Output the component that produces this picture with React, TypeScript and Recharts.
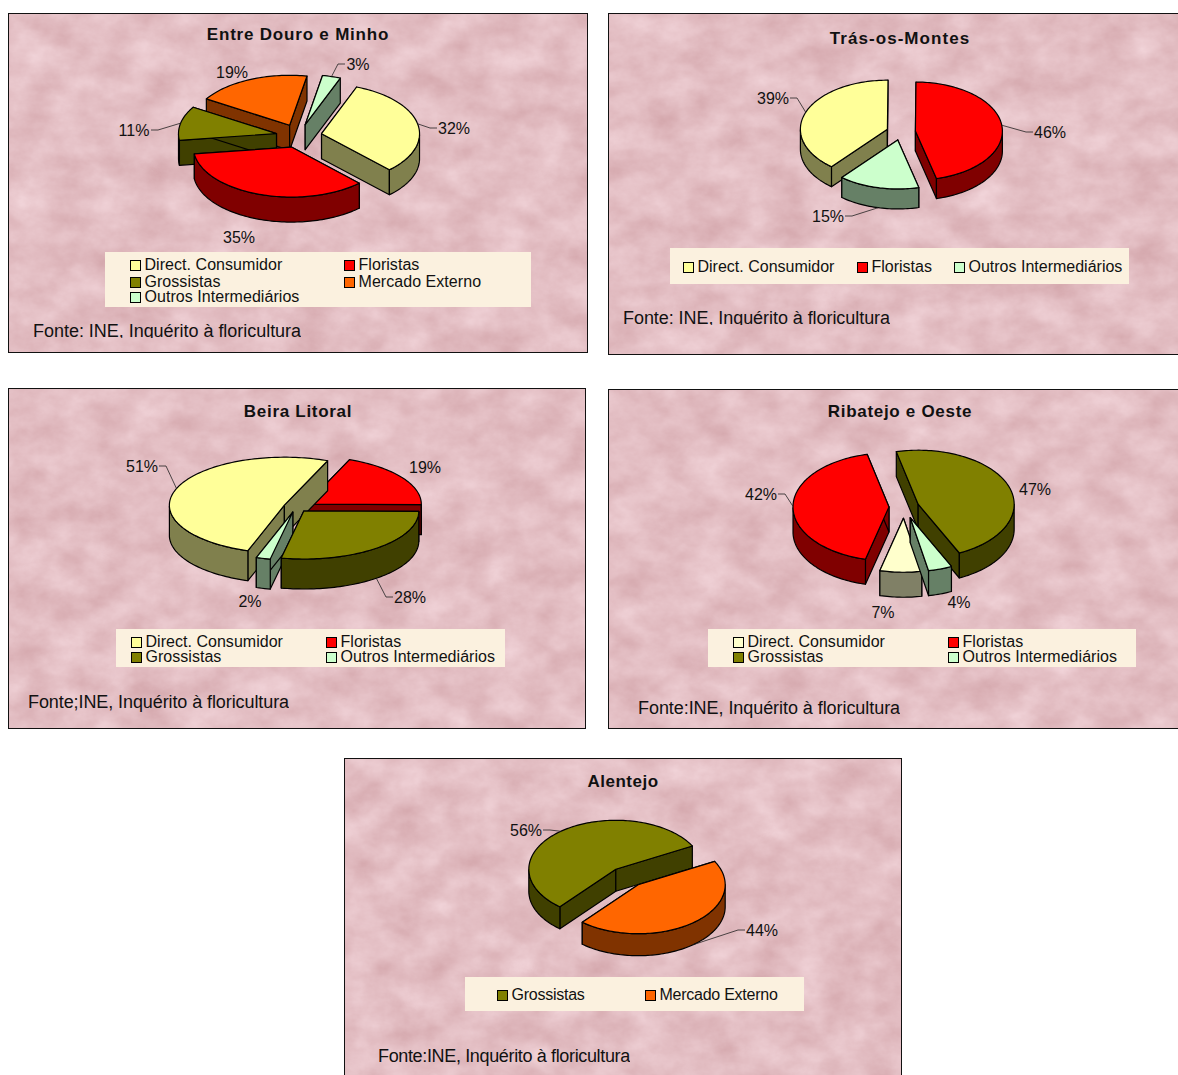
import React from "react";
import { PieChart, Pie, Legend } from "recharts";

const FONT = '"Liberation Sans", Arial, sans-serif';

const DIRECT = "Direct. Consumidor";
const FLOR = "Floristas";
const GROSS = "Grossistas";
const MERC = "Mercado Externo";
const OUTROS = "Outros Intermediários";

const topColors: Record<string, string> = {
  [DIRECT]: "#FFFF99", [FLOR]: "#FF0000", [GROSS]: "#808000", [MERC]: "#FF6600", [OUTROS]: "#CCFFCC",
};
const wallColors: Record<string, string> = {
  [DIRECT]: "#80804D", [FLOR]: "#800000", [GROSS]: "#404000", [MERC]: "#803300", [OUTROS]: "#668066",
};
const paleDirectTop = "#FFFFCC";
const paleDirectWall = "#808066";

const minhoCategories = [DIRECT, FLOR, GROSS, MERC, OUTROS];
const minhoValues = [32, 35, 11, 19, 3];
const montesCategories = [DIRECT, FLOR, OUTROS];
const montesValues = [39, 46, 15];
const litoralCategories = [DIRECT, FLOR, GROSS, OUTROS];
const litoralValues = [51, 19, 28, 2];
const oesteCategories = [DIRECT, FLOR, GROSS, OUTROS];
const oesteValues = [7, 42.4, 46.6, 4];
const alentejoCategories = [GROSS, MERC];
const alentejoValues = [56, 44];

type Cfg = any;

const charts: Cfg[] = [
  {
    title: "Entre Douro e Minho", titleAt: [298, 34], titleSpacing: 0.8,
    source: "Fonte: INE, Inquérito à floricultura", sourceAt: [33, 331], sourceClip: 338, sourceSpacing: -0.03,
    panel: [8, 13, 580, 340], seed: 3, legendSpacing: 0.05,
    categories: minhoCategories, values: minhoValues,
    center: [299, 136], rx: 98, ry: 50, depth: 25, start: 69, explode: [23, 23, 23, 23, 23],
    order: [OUTROS, MERC, GROSS, DIRECT, FLOR],
    labels: [[155, -8, "r"], [-60, 101, ""], [-165, -6, "l"], [-67, -64, ""], [59, -72, "r"]],
    legendBox: [105, 252, 426, 55],
    legendCells: [[130, 265], [344, 265], [130, 282], [344, 282], [130, 297]],
  },
  {
    title: "Trás-os-Montes", titleAt: [900, 38], titleSpacing: 1.05,
    source: "Fonte: INE, Inquérito à floricultura", sourceAt: [623, 318], sourceClip: 325, sourceSpacing: -0.06,
    panel: [608, 13, 572, 342], seed: 8, legendSpacing: 0,
    categories: montesCategories, values: montesValues,
    center: [901, 132], rx: 87, ry: 49, depth: 20, start: 230, explode: [14.5, 14.5, 14.5],
    order: [DIRECT, FLOR, OUTROS],
    labels: [[-128, -34, "l"], [149, 0, "r"], [-73, 84, "l"]],
    legendBox: [670, 248, 459, 36],
    legendCells: [[683, 267], [857, 267], [954, 267]],
  },
  {
    title: "Beira Litoral", titleAt: [298, 411], titleSpacing: 0.7,
    source: "Fonte;INE, Inquérito à floricultura", sourceAt: [28, 702], sourceSpacing: -0.09,
    panel: [8, 388, 578, 341], seed: 14, legendSpacing: 0.03,
    categories: litoralCategories, values: litoralValues,
    center: [296, 507], rx: 115, ry: 48, depth: 30, start: 251.5, explode: [12.4, 12.4, 12.4, 12.4],
    order: [FLOR, DIRECT, OUTROS, GROSS],
    labels: [[-154, -41, "l"], [129, -40, ""], [114, 90, "r"], [-46, 94, ""]],
    legendBox: [116, 629, 389, 38],
    legendCells: [[131, 642], [326, 642], [131, 657], [326, 657]],
  },
  {
    title: "Ribatejo e Oeste", titleAt: [900, 411], titleSpacing: 0.7,
    source: "Fonte:INE, Inquérito à floricultura", sourceAt: [638, 708], sourceSpacing: -0.06,
    panel: [608, 389, 572, 340], seed: 21, legendSpacing: 0.03, paleDirect: true,
    categories: oesteCategories, values: oesteValues,
    center: [904, 507], rx: 96, ry: 54, depth: 25, start: -79, explode: [20, 15, 15, 20],
    order: [FLOR, GROSS, DIRECT, OUTROS],
    labels: [[-21, 105, ""], [-143, -13, "l"], [131, -18, ""], [55, 95, ""]],
    legendBox: [708, 629, 428, 38],
    legendCells: [[733, 642], [948, 642], [733, 657], [948, 657]],
  },
  {
    title: "Alentejo", titleAt: [623, 781], titleSpacing: 0.5,
    source: "Fonte:INE, Inquérito à floricultura", sourceAt: [378, 1056], sourceSpacing: -0.35,
    panel: [344, 758, 558, 320], seed: 30, legendSpacing: -0.25,
    categories: alentejoCategories, values: alentejoValues,
    center: [627, 877], rx: 87, ry: 49, depth: 22, start: 230, explode: [17.7, 17.7],
    order: [GROSS, MERC],
    labels: [[-101, -47, "l"], [135, 53, "r"]],
    legendBox: [465, 977, 339, 34],
    legendCells: [[497, 995], [645, 995]],
  },
];

const RAD = Math.PI / 180;
const topOf = (cfg: Cfg, name: string) => (cfg.paleDirect && name === DIRECT ? paleDirectTop : topColors[name]);
const wallOf = (cfg: Cfg, name: string) => (cfg.paleDirect && name === DIRECT ? paleDirectWall : wallColors[name]);
const LINE = 1.2;

function wedge(props: any, cfg: Cfg, only: string) {
  const name = props.payload?.name ?? props.name;
  if (name !== only) return <g />;
  const { cx, cy, outerRadius, startAngle, endAngle } = props;
  const tilt = cfg.ry / cfg.rx;
  const idx = cfg.categories.indexOf(name);
  const mid = (startAngle + endAngle) / 2;
  const e = cfg.explode[idx];
  const ax = cx + e * Math.cos(mid * RAD);
  const ay = cy - e * tilt * Math.sin(mid * RAD);
  const pt = (deg: number, drop = 0) => [
    ax + outerRadius * Math.cos(deg * RAD),
    ay - outerRadius * tilt * Math.sin(deg * RAD) + drop,
  ];
  const hi = Math.max(startAngle, endAngle);
  const lo = Math.min(startAngle, endAngle);
  const steps = Math.max(2, Math.ceil((hi - lo) / 1.5));
  const angs: number[] = [];
  for (let i = 0; i <= steps; i++) angs.push(hi - ((hi - lo) * i) / steps);
  const arc = angs.map((a) => pt(a));
  const topPath = `M${ax},${ay} ` + arc.map((p) => `L${p[0]},${p[1]}`).join(" ") + " Z";

  const runs: number[][] = [];
  let cur: number[] = [];
  angs.forEach((a) => {
    if (Math.sin(a * RAD) <= 0.001) cur.push(a);
    else if (cur.length) { runs.push(cur); cur = []; }
  });
  if (cur.length) runs.push(cur);
  const wallFill = wallOf(cfg, name);
  const radial = (a: number, k: string) => {
    const p = pt(a);
    const d = `M${ax},${ay} L${p[0]},${p[1]} L${p[0]},${p[1] + cfg.depth} L${ax},${ay + cfg.depth} Z`;
    return <path key={k} d={d} fill={wallFill} stroke="#000" strokeWidth={LINE} strokeLinejoin="round" />;
  };
  return (
    <g>
      {radial(hi, "r1")}
      {radial(lo, "r2")}
      {runs.map((run, i) => {
        const a = run.map((d) => pt(d));
        const b = run.slice().reverse().map((d) => pt(d, cfg.depth));
        const d = "M" + a.concat(b).map((p) => `${p[0]},${p[1]}`).join(" L") + " Z";
        return <path key={i} d={d} fill={wallFill} stroke="#000" strokeWidth={LINE} strokeLinejoin="round" />;
      })}
      <path d={topPath} fill={topOf(cfg, name)} stroke="#000" strokeWidth={LINE} strokeLinejoin="round" />
    </g>
  );
}

function labelFor(props: any, cfg: Cfg) {
  const { cx, cy, midAngle, outerRadius, index, value } = props;
  const [ox, oy, side] = cfg.labels[index];
  const lx = cx + ox;
  const ly = cy + oy;
  const tilt = cfg.ry / cfg.rx;
  const e = cfg.explode[index];
  const c = Math.cos(midAngle * RAD);
  const s = Math.sin(midAngle * RAD);
  const rimX = cx + (e + outerRadius) * c;
  const rimY = cy - (e + outerRadius) * tilt * s + (s < -0.05 ? cfg.depth : 0);
  const shown = Math.round(value);
  const halfW = String(shown).length > 1 ? 17 : 13;
  let leader = null;
  if (side) {
    const sign = side === "l" ? 1 : -1;
    const edge = lx + sign * halfW;
    const d = `M${edge},${ly} L${edge + sign * 7},${ly} L${rimX},${rimY}`;
    leader = <path d={d} fill="none" stroke="#222" strokeWidth={0.8} />;
  }
  return (
    <g>
      {leader}
      <text x={lx} y={ly} textAnchor="middle" dominantBaseline="central" fontFamily={FONT} fontSize={16} fill="#111">
        {shown}%
      </text>
    </g>
  );
}

function Texture({ w, h, seed }: { w: number; h: number; seed: number }) {
  const id = `tex${seed}`;
  return (
    <svg width={w} height={h} style={{ position: "absolute", left: 0, top: 0 }}>
      <defs>
        <filter id={id} x="0" y="0" width="100%" height="100%" colorInterpolationFilters="sRGB">
          <feTurbulence type="fractalNoise" baseFrequency="0.025 0.035" numOctaves={5} seed={seed} />
          <feColorMatrix type="matrix" values="0.13 0 0 0 0.825  0.2 0 0 0 0.645  0.2 0 0 0 0.665  0 0 0 0 1" />
        </filter>
      </defs>
      <rect width={w} height={h} filter={`url(#${id})`} />
    </svg>
  );
}

function LegendBody({ cfg }: { cfg: Cfg }) {
  const [bx, by, bw, bh] = cfg.legendBox;
  return (
    <div style={{ position: "relative", width: bw, height: bh, background: "#FBF1DF", fontFamily: FONT, fontSize: 16, lineHeight: "16px", letterSpacing: cfg.legendSpacing, color: "#111" }}>
      {cfg.categories.map((c: string, i: number) => {
        const [x, y] = cfg.legendCells[i];
        return (
          <React.Fragment key={c}>
            <div style={{ position: "absolute", left: x - bx, top: y - by - 5, width: 9, height: 9, background: topOf(cfg, c), border: "1px solid #000" }} />
            <div style={{ position: "absolute", left: x - bx + 14.5, top: y - by - 8, whiteSpace: "nowrap" }}>{c}</div>
          </React.Fragment>
        );
      })}
    </div>
  );
}

function Panel({ cfg }: { cfg: Cfg }) {
  const [px, py, pw, ph] = cfg.panel;
  const rows = cfg.categories.map((name: string, i: number) => ({ name, value: cfg.values[i], fill: topColors[name] }));
  const cx = cfg.center[0] - px;
  const cy = cfg.center[1] - py;
  const [bx, by, bw, bh] = cfg.legendBox;
  return (
    <div style={{ position: "absolute", left: px, top: py, width: pw, height: ph, boxSizing: "border-box", border: "1px solid #111", overflow: "hidden" }}>
      <Texture w={pw} h={ph} seed={cfg.seed} />
      <div style={{ position: "absolute", left: -1, top: -1 }}>
        <PieChart width={pw} height={ph} margin={{ top: 0, right: 0, bottom: 0, left: 0 }}>
          {cfg.order.map((name: string) => (
            <Pie
              key={name}
              data={rows}
              dataKey="value"
              nameKey="name"
              cx={cx}
              cy={cy}
              innerRadius={0}
              outerRadius={cfg.rx}
              startAngle={cfg.start}
              endAngle={cfg.start - 360}
              legendType="none"
              isAnimationActive={false}
              stroke="none"
              shape={(p: any) => wedge(p, cfg, name)}
            />
          ))}
          <Pie
            data={rows}
            dataKey="value"
            nameKey="name"
            cx={cx}
            cy={cy}
            innerRadius={0}
            outerRadius={cfg.rx}
            startAngle={cfg.start}
            endAngle={cfg.start - 360}
            legendType="none"
            isAnimationActive={false}
            stroke="none"
            shape={() => <g />}
            labelLine={false}
            label={(p: any) => labelFor(p, cfg)}
          />
          <Legend
            content={() => <LegendBody cfg={cfg} />}
            wrapperStyle={{ position: "absolute", left: bx - px, top: by - py, width: bw, height: bh, bottom: "auto", right: "auto" }}
          />
        </PieChart>
      </div>
      <div style={{ position: "absolute", left: 0, width: cfg.titleAt[0] * 2 - 2 * px - 2, top: cfg.titleAt[1] - py - 10, textAlign: "center", fontFamily: FONT, fontWeight: 700, fontSize: 17, lineHeight: "20px", letterSpacing: cfg.titleSpacing, color: "#111", whiteSpace: "nowrap" }}>
        {cfg.title}
      </div>
      <div style={{ position: "absolute", left: cfg.sourceAt[0] - px - 1, top: cfg.sourceAt[1] - py - 11, height: cfg.sourceClip ? cfg.sourceClip - cfg.sourceAt[1] + 10 : 24, overflow: "hidden", fontFamily: FONT, fontSize: 18, lineHeight: "21px", letterSpacing: cfg.sourceSpacing, color: "#111", whiteSpace: "nowrap" }}>
        {cfg.source}
      </div>
    </div>
  );
}

export default function App() {
  return (
    <div style={{ position: "absolute", left: 0, top: 0, width: 1178, height: 1075, overflow: "hidden", background: "#fff" }}>
      {charts.map((c) => (
        <Panel key={c.title} cfg={c} />
      ))}
    </div>
  );
}
